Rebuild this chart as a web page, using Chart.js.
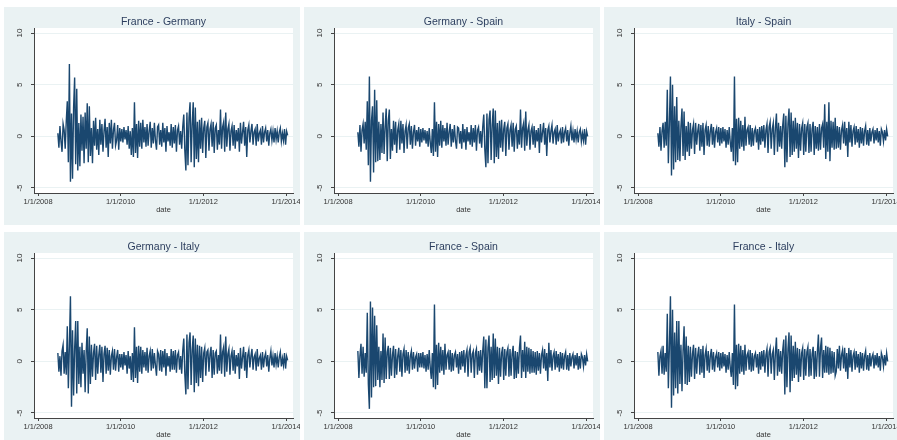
<!DOCTYPE html>
<html>
<head>
<meta charset="utf-8">
<script src="https://cdn.jsdelivr.net/npm/chart.js@4.4.1/dist/chart.umd.min.js"></script>
<style>
  html, body { margin: 0; padding: 0; background: #fff; width: 897px; height: 440px; overflow: hidden; }
  .panel { position: absolute; width: 296px; height: 218px; background: #eaf2f3; overflow: hidden; }
  .panel canvas { display: block; }
</style>
</head>
<body>
<div class="panel" style="left:4px;top:7px"><canvas id="c0" width="296" height="218"></canvas></div>
<div class="panel" style="left:304px;top:7px"><canvas id="c1" width="296" height="218"></canvas></div>
<div class="panel" style="left:604px;top:7px"><canvas id="c2" width="296" height="218"></canvas></div>
<div class="panel" style="left:4px;top:232px"><canvas id="c3" width="296" height="218"></canvas></div>
<div class="panel" style="left:304px;top:232px"><canvas id="c4" width="296" height="218"></canvas></div>
<div class="panel" style="left:604px;top:232px"><canvas id="c5" width="296" height="218"></canvas></div>
<script>
// panel titles
const titles = ['France - Germany', 'Germany - Spain', 'Italy - Spain',
                'Germany - Italy', 'France - Spain', 'France - Italy'];

// x axis ticks (year) and their labels
const xTicks = [2008, 2010, 2012, 2014];
const xTickLabels = ['1/1/2008', '1/1/2010', '1/1/2012', '1/1/2014'];
const yTicks = [-5, 0, 5, 10];

// first and last observation (decimal year), points evenly spaced between
const startYear = 2008.48;
const endYear = 2014.04;

// spread series
const franceGermany = [
  0.3, -1.1, 1.0, -0.5, -1.5, 1.2, 0.6, -1.2, 1.4, 3.4,
  -2.5, 7.0, -4.4, 2.2, -4.1, 2.8, 5.7, -2.7, 4.6, -3.3,
  1.3, -2.9, 2.1, -1.4, 1.9, -2.6, 2.3, -1.2, 3.2, -2.5,
  2.9, -1.9, 0.8, -2.6, 1.5, -0.9, 1.8, -1.3, 0.7, -1.8,
  1.6, -0.8, 1.2, -1.5, 0.5, 1.7, -1.1, 0.9, -2.0, 1.3,
  -0.7, 1.6, -1.2, 0.6, 1.3, -0.9, -0.4, 1.1, -1.3, 0.8,
  -0.5, 0.7, -0.6, 0.9, -0.3, 0.6, -0.8, 1.0, -1.2, 0.5,
  -1.8, 0.8, -2.0, 3.3, -1.6, 1.2, -2.1, 1.5, -1.0, 1.3,
  -1.2, 1.6, -0.6, 0.9, -1.0, 1.2, -0.9, 0.5, 1.4, -1.1,
  0.8, -0.7, 1.3, -0.4, -1.3, 0.9, 1.1, -0.8, 0.6, -1.0,
  1.3, -0.6, 0.8, -1.5, 1.0, -0.5, 0.4, -0.9, 1.2, -1.1,
  0.9, -0.7, 1.1, -1.5, 0.6, 1.0, -0.8, 0.5, -1.2, 0.9,
  2.1, -1.4, -3.3, 2.3, -2.8, 1.8, 3.3, -2.5, 1.2, 3.3,
  -3.0, 2.8, -2.2, 1.4, -2.5, 1.6, -1.2, 1.8, -1.6, 0.8,
  1.5, -2.1, 0.9, 1.3, -1.4, 0.7, 1.2, -1.0, 1.4, -1.6,
  0.8, 1.1, -1.3, 0.6, -0.8, 2.6, -1.2, 0.9, 1.4, -1.5,
  2.3, -1.0, 0.7, 1.2, -1.4, 0.5, 1.0, -0.9, 1.1, -1.2,
  0.6, -0.5, 0.8, -1.5, 1.3, -0.7, 0.4, 1.4, -0.9, 0.9,
  -2.0, 0.6, 1.1, -0.6, 0.5, 1.2, -0.8, 0.4, 0.7, -0.9,
  1.2, -0.5, 0.3, 0.6, -0.8, 1.0, -0.6, 0.4, 0.8, -0.5,
  0.6, -0.9, 0.3, 0.7, -0.4, 0.5, -0.6, 0.8, -0.3, 0.5,
  -0.6, 0.4, 0.8, -0.5, 0.3, -0.4, 0.7, -0.8, 0.5, 0.1
];
const germanySpain = [
  0.4, -1.0, 1.1, -1.5, 0.6, 1.2, -0.7, 1.4, -1.3, 3.4,
  -2.8, 5.8, -4.4, 1.5, 2.9, -3.5, 4.5, -2.5, 3.5, -2.4,
  1.4, -2.3, 1.2, -1.6, 2.3, -1.7, 0.9, 2.7, -2.4, 1.5,
  2.6, -2.2, 0.7, -1.4, 1.5, -0.8, 1.4, -1.6, 0.6, 1.2,
  -1.3, 1.5, -0.7, 1.2, -1.6, 0.5, 1.1, -1.2, 0.8, 1.2,
  -0.8, 1.0, -1.2, 0.4, 1.1, -0.9, 0.6, -0.5, 0.9, -1.0,
  0.7, -0.6, 0.8, -0.4, 0.6, -0.7, 0.5, -1.0, 0.8, -0.6,
  -1.6, 0.7, -1.9, 3.3, -1.5, 1.4, -2.0, 1.2, -0.9, 1.5,
  -1.1, 1.1, -0.5, 0.8, -0.9, 1.3, -0.8, 0.4, 1.2, -1.0,
  0.7, -0.6, 1.1, -0.4, -1.2, 0.9, 0.8, -0.7, 0.5, -1.2,
  1.2, -0.6, 0.7, -1.3, 0.9, -0.5, 0.4, -0.8, 1.1, -1.0,
  0.8, -0.6, 1.1, -1.4, 0.6, 0.9, -0.7, 0.5, -1.1, 0.9,
  2.1, -1.3, -3.0, 2.2, -2.6, 1.6, 2.5, -2.3, 1.1, 2.7,
  -2.6, 2.5, -2.0, 1.3, -2.2, 1.5, -1.1, 1.6, -1.5, 0.7,
  1.4, -1.9, 0.8, 1.2, -1.3, 0.6, 1.1, -1.0, 1.3, -1.5,
  0.7, 1.0, -1.2, 0.6, -0.8, 2.6, -1.1, 0.8, 1.3, -1.4,
  2.4, -0.9, 0.6, 1.1, -1.3, 0.5, 0.9, -0.8, 1.0, -1.1,
  0.6, -0.5, 0.8, -1.6, 1.2, -0.6, 0.4, 1.3, -0.8, 0.8,
  -1.9, 0.6, 1.0, -0.6, 0.5, 1.1, -0.7, 0.4, 0.7, -0.8,
  1.1, -0.5, 0.3, 0.6, -0.7, 0.9, -0.6, 0.4, 0.8, -0.5,
  0.6, -0.9, 0.3, 1.0, -0.4, 0.5, -0.6, 0.7, -0.3, 0.5,
  -0.6, 0.4, 0.7, -0.5, 0.3, -0.4, 0.7, -0.8, 0.5, 0.0
];
const italySpain = [
  0.3, -1.0, 0.9, -1.4, 0.5, 1.3, -1.1, 1.4, -0.9, 4.5,
  -2.6, 1.2, 5.8, -3.8, 5.0, -3.2, 2.9, -2.5, 3.8, -2.3,
  1.5, -2.4, 0.9, 2.7, -1.9, 2.4, -2.3, 1.0, -1.5, 1.4,
  -1.9, 1.3, -1.2, 0.6, 1.2, -1.7, 1.3, -0.8, 0.5, 1.2,
  -1.4, 1.1, -1.0, 1.3, -1.8, 0.6, 1.1, -0.9, 1.0, -1.0,
  0.5, 1.2, -0.8, 0.9, -1.1, 0.4, 0.8, -0.6, 0.9, -0.9,
  0.8, -0.7, 0.9, -0.5, 0.7, -1.1, 0.6, -0.8, 0.9, -0.6,
  -1.5, 0.8, -2.4, 5.8, -2.8, 1.7, -2.5, 1.8, -1.2, 1.5,
  -1.0, 1.1, -1.4, 1.9, -0.9, 0.6, 0.9, -0.8, 1.1, -1.0,
  0.8, -0.9, 0.5, 0.8, -0.6, 0.7, -1.3, 0.9, -0.8, 1.0,
  -0.5, 1.1, -1.1, 0.6, 1.2, -1.6, 0.9, 1.4, -1.2, 0.7,
  1.3, -1.8, 0.8, 2.2, -1.5, 1.3, -1.0, 1.0, -1.2, 1.1,
  2.2, -3.0, 2.0, -2.5, 1.2, 2.7, -2.0, 2.3, -1.8, 1.5,
  -1.5, 1.8, -1.2, 1.3, -2.1, 1.2, -1.4, 0.8, 1.3, -1.8,
  1.2, -1.5, 0.9, 1.3, -1.6, 1.2, -1.5, 0.7, 1.4, -1.8,
  1.0, -1.2, 0.9, -1.4, 1.2, -1.3, 0.8, 1.2, -1.1, 3.1,
  -2.2, 1.4, -1.5, 3.3, -2.4, 1.5, -1.1, 1.4, -1.3, 1.8,
  -1.2, 1.0, -1.1, 0.9, -1.3, 0.6, 1.1, -0.7, 1.4, -0.9,
  0.8, -2.0, 1.4, -0.6, 1.1, -1.0, 0.5, 0.9, -0.8, 1.0,
  -0.6, 0.7, -1.1, 0.9, -0.7, 0.8, -0.9, 0.5, 1.0, -0.8,
  0.6, -0.9, 0.8, -0.5, 0.4, 0.7, -0.7, 0.6, -0.4, 0.8,
  -0.6, 0.5, -0.9, 0.7, 0.4, -0.5, 0.6, -0.4, 0.7, 0.0
];
const germanyItaly = [
  0.8, -1.0, 0.5, -1.4, 1.0, 1.6, -1.2, 0.9, -1.3, 3.4,
  -2.6, 1.5, 6.3, -4.4, 3.0, -3.3, 1.2, 3.9, -3.1, 3.9,
  -2.2, 1.4, -2.5, 1.8, -1.2, 1.1, -3.0, 0.9, 3.2, -3.1,
  2.4, -2.2, 1.6, -1.5, 0.8, 1.7, -1.8, 1.5, -1.2, 0.6,
  1.6, -1.1, 1.4, -2.0, 0.7, 1.5, -1.2, 1.3, -0.9, 1.1,
  -1.3, 0.5, 1.0, -0.8, 1.2, -0.9, 0.4, 1.1, -1.0, 0.7,
  -0.6, 0.7, -0.8, 0.9, -0.4, 0.6, -1.2, 1.0, -0.7, 0.5,
  -1.8, 0.8, -2.0, 3.3, -1.6, 1.4, -2.1, 1.5, -1.0, 1.4,
  -1.2, 1.1, -0.6, 0.9, -0.9, 1.3, -1.1, 0.5, 1.0, -0.9,
  1.2, -0.7, 0.8, -0.4, -1.4, 1.0, 0.7, -0.9, 1.1, -1.0,
  1.0, -0.6, 1.2, -1.4, 0.8, -0.5, 0.5, -1.0, 1.2, -0.8,
  1.0, -0.8, 1.1, -1.1, 0.6, 0.9, -0.8, 0.5, -1.2, 1.0,
  2.2, -1.3, -3.2, 2.6, -2.7, 1.8, 2.8, -2.3, 1.1, 2.5,
  -3.0, 2.2, -2.1, 1.6, -2.4, 1.5, -1.6, 1.4, -2.0, 0.8,
  1.3, -1.4, 0.9, 1.1, -1.0, 0.7, 1.4, -1.6, 1.1, -1.3,
  0.8, 1.0, -1.2, 0.6, -0.9, 2.6, -1.2, 0.9, 1.4, -1.5,
  2.4, -1.0, 0.7, 1.2, -1.3, 0.5, 1.0, -0.9, 1.1, -1.2,
  0.6, -0.5, 0.8, -1.7, 1.3, -0.7, 0.4, 1.4, -0.9, 0.9,
  -1.6, 0.6, 1.1, -0.6, 0.5, 1.2, -0.8, 0.4, 0.7, -0.9,
  1.2, -0.5, 0.3, 0.6, -0.8, 0.9, -0.6, 0.4, 0.8, -0.5,
  0.6, -1.0, 0.3, 1.0, -0.4, 0.5, -0.6, 0.8, -0.3, 0.5,
  -0.6, 0.4, 0.9, -0.5, 0.3, -0.4, 0.8, -0.7, 0.5, 0.1
];
const franceSpain = [
  1.0, -1.6, 0.5, 1.7, -1.2, 1.4, -1.5, 0.8, -1.1, 4.7,
  -2.2, -4.6, 5.8, -3.5, 5.2, -2.5, 4.4, -2.4, 3.5, -1.8,
  1.4, -2.5, 1.0, -1.8, 2.7, -2.1, 2.3, -1.7, 0.9, 1.5,
  -1.7, 1.3, -1.4, 0.6, 1.5, -1.6, 1.2, -1.3, 0.5, 1.3,
  -1.0, 1.1, -1.5, 0.7, 1.2, -1.1, 1.1, -0.9, 0.9, -1.2,
  0.5, 1.0, -0.8, 0.9, -0.7, 0.4, 0.7, -1.0, 0.8, -0.6,
  0.8, -0.6, 0.9, -0.7, 0.6, -1.0, 0.7, -0.8, 1.1, -0.6,
  -1.7, 0.8, -2.5, 5.5, -2.7, 1.6, -2.3, 1.8, -1.1, 1.4,
  -0.9, 1.1, -1.3, 1.7, -0.8, 0.6, 0.9, -0.8, 1.1, -1.0,
  0.8, -0.9, 0.6, 0.9, -0.6, 0.7, -1.2, 0.9, -0.8, 1.0,
  -0.5, 1.1, -1.1, 0.6, 1.1, -1.5, 0.9, 1.3, -1.1, 0.7,
  1.0, -1.6, 0.8, 1.2, -1.3, 1.0, -0.9, 1.1, -1.1, 1.0,
  2.4, -2.6, 2.1, -2.6, 1.3, 2.5, -2.0, 1.4, -1.8, 2.7,
  -1.6, 2.2, -1.4, 1.4, -2.2, 1.3, -1.5, 0.8, 1.4, -1.8,
  1.2, -1.4, 0.9, 1.3, -1.5, 1.2, -1.4, 0.7, 1.5, -1.7,
  1.0, -1.6, 0.9, -1.2, 1.3, 2.5, -1.6, 1.1, -1.0, 1.9,
  -1.6, 1.4, -1.0, 1.3, -1.2, 1.2, -1.1, 1.0, -1.1, 0.9,
  -1.3, 1.0, -0.9, 0.8, -1.2, 0.6, 1.1, -0.7, 1.2, -0.9,
  0.8, -1.9, 1.8, -0.6, 1.1, -0.9, 0.5, 0.9, -0.8, 1.0,
  -0.6, 0.7, -1.0, 0.9, -0.7, 0.8, -0.8, 0.5, 0.9, -0.8,
  0.6, -0.9, 0.8, -0.5, 0.4, 0.7, -0.7, 0.6, -0.4, 0.8,
  -0.8, 0.5, -0.7, 0.7, 0.4, -0.5, 0.6, -0.4, 0.7, 0.0
];
const franceItaly = [
  0.9, -1.4, 0.5, 1.0, -1.2, 1.5, -1.3, 0.8, -1.0, 4.6,
  -2.6, 1.3, 6.3, -4.5, 5.0, -3.3, 2.8, -2.6, 3.9, -3.1,
  3.9, -2.2, 1.6, -2.9, 1.0, 3.4, -2.2, 2.4, -2.3, 1.5,
  -2.0, 1.4, -1.5, 0.7, 1.6, -1.7, 1.3, -1.2, 0.6, 1.4,
  -1.3, 1.2, -1.1, 1.5, -1.6, 0.6, 1.2, -0.9, 1.0, -1.1,
  0.5, 1.2, -0.8, 0.9, -1.0, 0.4, 0.8, -0.6, 0.9, -0.9,
  0.8, -0.7, 0.9, -0.5, 0.7, -1.1, 0.6, -0.8, 0.9, -0.6,
  -1.5, 0.8, -2.3, 5.5, -2.7, 1.6, -2.4, 1.7, -1.2, 1.5,
  -1.0, 1.1, -1.3, 1.6, -0.9, 0.6, 0.9, -0.8, 1.1, -1.0,
  0.8, -0.9, 0.5, 0.8, -0.6, 0.7, -1.2, 0.9, -0.8, 1.0,
  -0.5, 1.1, -1.1, 0.6, 1.2, -1.5, 0.9, 1.3, -1.2, 0.7,
  1.1, -1.8, 0.8, 2.3, -1.4, 1.2, -1.0, 1.0, -1.2, 1.1,
  2.1, -3.2, 2.5, -2.5, 1.2, 2.8, -3.0, 2.5, -1.9, 1.5,
  -1.6, 1.9, -1.3, 1.3, -2.0, 1.2, -1.5, 0.8, 1.3, -1.8,
  1.2, -1.4, 0.9, 1.4, -1.5, 1.2, -1.4, 0.7, 1.4, -1.7,
  1.0, -1.5, 0.9, 2.6, -1.5, 1.3, 2.3, -1.6, 1.1, -1.1,
  1.5, -1.1, 1.4, -1.3, 1.3, -1.2, 1.0, -1.1, 0.9, -1.4,
  -1.0, 1.2, -0.7, 1.5, -0.9, 0.6, 1.1, -0.7, 1.3, -1.0,
  0.8, -1.7, 1.3, -0.6, 1.1, -1.0, 0.5, 0.9, -0.8, 1.0,
  -0.6, 0.7, -1.1, 0.9, -0.7, 0.8, -0.9, 0.5, 1.0, -0.8,
  0.6, -0.9, 0.8, -0.5, 0.4, 0.7, -0.7, 0.6, -0.4, 0.8,
  -0.6, 0.5, -0.9, 0.8, 0.4, -0.5, 0.6, -0.4, 0.8, 0.0
];

const series = [franceGermany, germanySpain, italySpain, germanyItaly, franceSpain, franceItaly];

const FONT = '"Liberation Sans", Arial, sans-serif';

// white plot region
const plotBg = {
  id: 'plotBg',
  beforeDraw(chart) {
    const { ctx, chartArea: a } = chart;
    ctx.save();
    ctx.fillStyle = '#ffffff';
    ctx.fillRect(a.left, a.top, a.right - a.left, a.bottom - a.top);
    ctx.restore();
  }
};

// vertical y tick labels and a title centred over the plot region, Stata style
const stataText = {
  id: 'stataText',
  afterDraw(chart, args, opts) {
    const { ctx, chartArea: a } = chart;
    const y = chart.scales.y;
    ctx.save();
    ctx.font = '8px ' + FONT;
    ctx.fillStyle = '#333333';
    ctx.textAlign = 'center';
    ctx.textBaseline = 'middle';
    yTicks.forEach(v => {
      ctx.save();
      ctx.translate(16, y.getPixelForValue(v));
      ctx.rotate(-Math.PI / 2);
      ctx.fillText(String(v), 0, 0);
      ctx.restore();
    });
    ctx.font = '10.5px ' + FONT;
    ctx.fillStyle = '#2c3e5e';
    ctx.fillText(opts.text, (a.left + a.right) / 2, 15);
    ctx.restore();
  }
};

series.forEach((vals, k) => {
  const pts = vals.map((v, i) => ({
    x: startYear + i * (endYear - startYear) / (vals.length - 1),
    y: v
  }));
  new Chart(document.getElementById('c' + k).getContext('2d'), {
    type: 'line',
    data: {
      datasets: [{
        data: pts,
        borderColor: '#1a476f',
        borderWidth: 1.4,
        pointRadius: 0,
        tension: 0,
        fill: false
      }]
    },
    options: {
      responsive: false,
      animation: false,
      events: [],
      layout: { padding: { left: 0, right: 7, top: 21, bottom: 0 } },
      plugins: {
        legend: { display: false },
        tooltip: { enabled: false },
        title: { display: false },
        stataText: { text: titles[k] }
      },
      scales: {
        x: {
          type: 'linear',
          min: 2007.903,
          max: 2014.169,
          afterBuildTicks: s => { s.ticks = xTicks.map(v => ({ value: v })); },
          afterFit: s => { s.height = 32; s.paddingLeft = 0; s.paddingRight = 0; },
          grid: { drawOnChartArea: false, drawTicks: true, tickLength: 3, tickColor: '#444444' },
          border: { color: '#444444', width: 1 },
          ticks: {
            autoSkip: false,
            maxRotation: 0,
            padding: 1,
            color: '#333333',
            font: { family: FONT, size: 7.5 },
            callback: (v, i) => xTickLabels[i]
          },
          title: {
            display: true,
            text: 'date',
            color: '#333333',
            font: { family: FONT, size: 7.5 },
            padding: { top: 0, bottom: 11 }
          }
        },
        y: {
          min: -5.484,
          max: 10.484,
          afterBuildTicks: s => { s.ticks = yTicks.map(v => ({ value: v })); },
          afterFit: s => { s.width = 30; s.paddingTop = 0; s.paddingBottom = 0; },
          grid: { color: '#eaf2f3', lineWidth: 1, drawTicks: true, tickLength: 3, tickColor: '#444444' },
          border: { color: '#444444', width: 1 },
          ticks: { display: false }
        }
      }
    },
    plugins: [plotBg, stataText]
  });
});
</script>
</body>
</html>
